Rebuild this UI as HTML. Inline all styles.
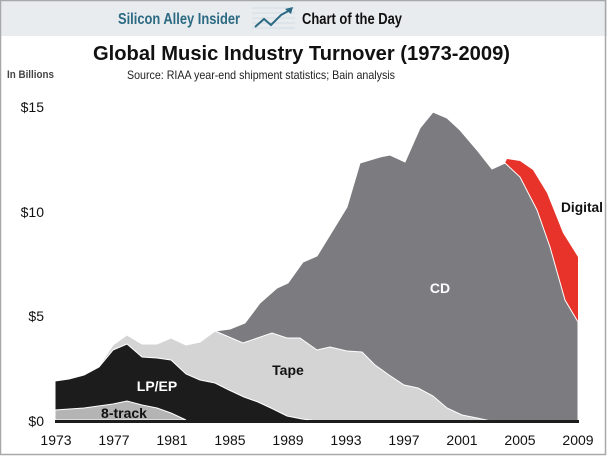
<!DOCTYPE html>
<html><head><meta charset="utf-8"><style>
body{margin:0;width:607px;height:456px;overflow:hidden;background:#fff;font-family:"Liberation Sans",sans-serif}
</style></head><body>
<svg width="607" height="456" viewBox="0 0 607 456" xmlns="http://www.w3.org/2000/svg" font-family="Liberation Sans, sans-serif">
<rect x="0" y="0" width="607" height="456" fill="#fff"/>
<rect x="0" y="0" width="607" height="36" fill="#e9ecef"/>
<rect x="0.5" y="0.5" width="605" height="454" fill="none" stroke="#a8a8a8" stroke-width="1.5"/>
<text x="118" y="24" font-size="16" font-weight="bold" fill="#2b6a82" textLength="122" lengthAdjust="spacingAndGlyphs">Silicon Alley Insider</text>
<g stroke="#c8d8e0" stroke-width="0.8"><line x1="252" y1="8" x2="295" y2="8"/><line x1="252" y1="13" x2="295" y2="13"/><line x1="252" y1="18" x2="295" y2="18"/><line x1="252" y1="23" x2="295" y2="23"/><line x1="252" y1="28" x2="295" y2="28"/></g>
<polyline points="255,27 264,19 271,25 281,15 290,10" fill="none" stroke="#2b6a82" stroke-width="2"/>
<polygon points="293,7 285,9 291,14" fill="#2b6a82"/>
<text x="302" y="24" font-size="16" font-weight="bold" fill="#111" textLength="100" lengthAdjust="spacingAndGlyphs">Chart of the Day</text>
<text x="93" y="60" font-size="20" font-weight="bold" fill="#111" textLength="417" lengthAdjust="spacingAndGlyphs">Global Music Industry Turnover (1973-2009)</text>
<text x="7" y="78" font-size="11" font-weight="bold" fill="#444" textLength="47" lengthAdjust="spacingAndGlyphs">In Billions</text>
<text x="127" y="79" font-size="12" fill="#222" textLength="268" lengthAdjust="spacingAndGlyphs">Source: RIAA year-end shipment statistics; Bain analysis</text>
<g font-size="14" fill="#111" text-anchor="end">
<text x="44" y="112">$15</text><text x="44" y="217">$10</text><text x="44" y="321">$5</text><text x="44" y="426">$0</text>
</g>
<polygon fill="#e8332a" points="505,163 507,159 520,161 533,170 547,193 563,233 578,257 578,322 565,300 550,247 537,210 520,177 505,163"/>
<polygon fill="#7c7c80" stroke="#fff" stroke-width="1" points="215,331 230,329 245,323 260,303 277,288 288,283 303,262 317,256 333,230 347,207 355,180 360,163 380,157 390,155 405,162 420,128 433,112 447,118 460,130 477,150 492,169 505,163 520,177 537,210 550,247 565,300 578,322 578,422 215,422"/>
<polygon fill="#d4d4d4" stroke="#fff" stroke-width="1" points="55,381 84,375 99,366 113,345 127,335 142,344 157,344 171,338 186,345 200,342 215,331 243,343 272,333 287,338 300,338 317,350 330,347 347,351 362,352 375,365 389,375 404,385 418,388 433,396 447,408 462,415 477,418 491,421 491,422 55,422"/>
<polygon fill="#1c1c1c" stroke="#fff" stroke-width="1" points="55,381 69,379 84,375 99,367 113,350 127,344 142,357 157,358 171,360 186,374 200,380 215,383 229,390 244,397 258,402 273,409 287,416 302,419 317,421 317,422 55,422"/>
<polygon fill="#b4b4b4" stroke="#fff" stroke-width="1" points="55,410 84,408 113,404 127,401 142,405 157,408 171,413 186,420 55,420"/>
<rect x="55" y="420" width="524" height="3" fill="#1c1c1c"/>
<g font-size="14" font-weight="bold">
<text x="157" y="391" fill="#fff" text-anchor="middle">LP/EP</text>
<text x="124" y="418" fill="#111" text-anchor="middle">8-track</text>
<text x="288" y="375" fill="#111" text-anchor="middle">Tape</text>
<text x="440" y="293" fill="#fff" text-anchor="middle">CD</text>
<text x="561" y="212" fill="#111" textLength="42" lengthAdjust="spacingAndGlyphs">Digital</text>
</g>
<g font-size="14" fill="#111" text-anchor="middle">
<text x="56" y="445">1973</text><text x="114" y="445">1977</text><text x="172" y="445">1981</text><text x="230" y="445">1985</text><text x="288" y="445">1989</text><text x="346" y="445">1993</text><text x="404" y="445">1997</text><text x="462" y="445">2001</text><text x="520" y="445">2005</text><text x="578" y="445">2009</text>
</g>
</svg>
</body></html>
